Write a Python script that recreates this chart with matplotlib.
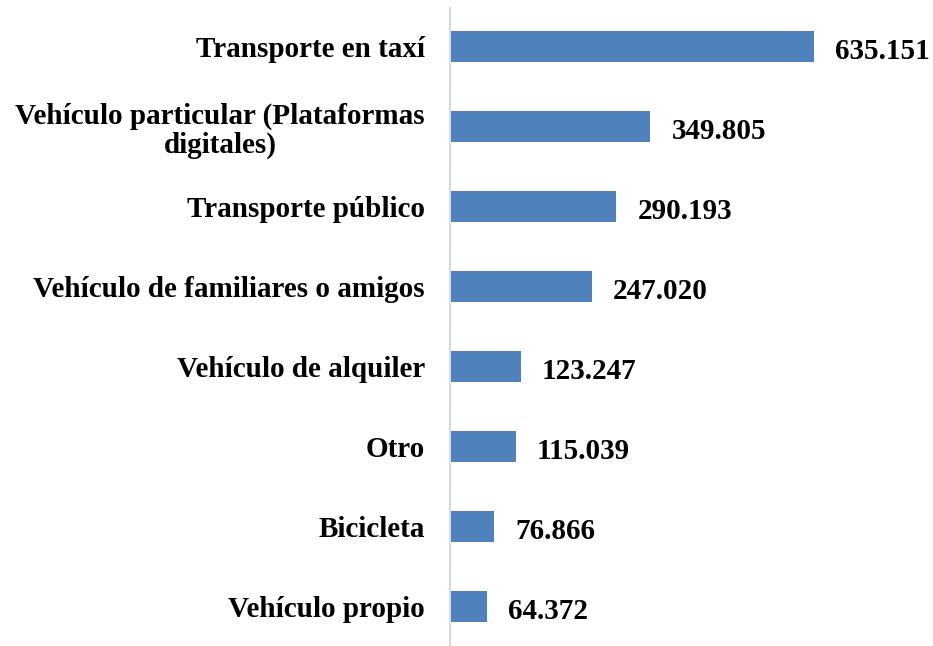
import matplotlib

matplotlib.use("Agg")
import matplotlib.pyplot as plt

categories = [
    "Transporte en taxí",
    "Vehículo particular (Plataformas\ndigitales)",
    "Transporte público",
    "Vehículo de familiares o amigos",
    "Vehículo de alquiler",
    "Otro",
    "Bicicleta",
    "Vehículo propio",
]
values = [635151, 349805, 290193, 247020, 123247, 115039, 76866, 64372]
value_labels = ["635.151", "349.805", "290.193", "247.020",
                "123.247", "115.039", "76.866", "64.372"]

plt.rcParams["font.family"] = ["Liberation Serif", "DejaVu Serif"]

fig = plt.figure(figsize=(9.33, 6.46), dpi=100)
ax = fig.add_axes([450 / 933, 1 - 645 / 646, 480 / 933, 637 / 646])

n = len(categories)
ypos = list(range(n - 1, -1, -1))
ax.barh(ypos, values, height=0.38, color="#4F81BD", zorder=2)

scale = 635151 / (815 - 451)  # data units per pixel
for y, v, lab in zip(ypos, values, value_labels):
    ax.text(v + 21 * scale, y - 0.06, lab, va="center", ha="left",
            fontsize=21, fontweight="bold", color="black")

ax.set_yticks(ypos)
ax.set_yticklabels(categories, fontsize=21, fontweight="bold", ha="right",
                   multialignment="center", linespacing=1.1)
ax.tick_params(axis="y", length=0, pad=18)
ax.set_xticks([])
ax.set_xlim(0, 480 * scale)
ax.set_ylim(-0.48, n - 0.52)

for side in ["top", "right", "bottom"]:
    ax.spines[side].set_visible(False)
ax.spines["left"].set_color("#d9d9d9")
ax.spines["left"].set_linewidth(1.5)

fig.savefig("out.png", dpi=100)
plt.close(fig)
